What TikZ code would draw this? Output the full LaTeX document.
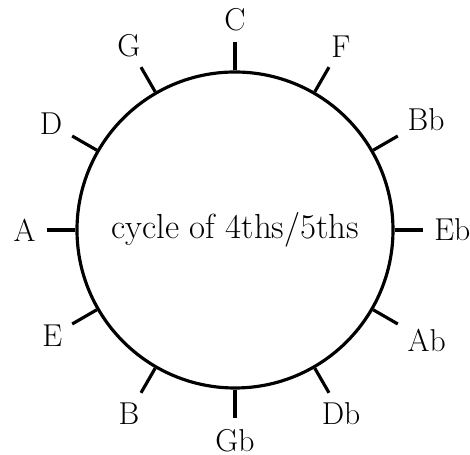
\documentclass[tikz,border=0pt]{standalone}
\usepackage{tikz}
\usetikzlibrary{positioning}

\tikzset{
  key/.style={font=\fontsize{18}{21}\selectfont, inner sep=0pt},
  tick/.style={line width=1.8pt}
}

\begin{document}
\begin{tikzpicture}
            \useasboundingbox (-4.7,-4.5) rectangle (4.7,4.6);
            \node[draw, circle, line width=1.8pt, minimum size=6.32cm, inner sep=0pt, font=\fontsize{19.8}{23}\selectfont] (wheel) at (0,0) {cycle of 4ths/5ths};
            
            \foreach \name/\ang [count=\i, evaluate=\ang as \opp using int(\ang+180)] in {C/90,F/60,Bb/30,Eb/0,Ab/-30,Db/-60,Gb/-90,B/-120,E/-150,A/180,D/150,G/120} {
                \coordinate (end\i) at (\ang:3.76);
                \node[key, anchor=\opp] (note\i) at (\ang:3.98) {\name};
                \draw[tick] (wheel.\ang) -- (end\i);
            }
        \end{tikzpicture}
\end{document}
